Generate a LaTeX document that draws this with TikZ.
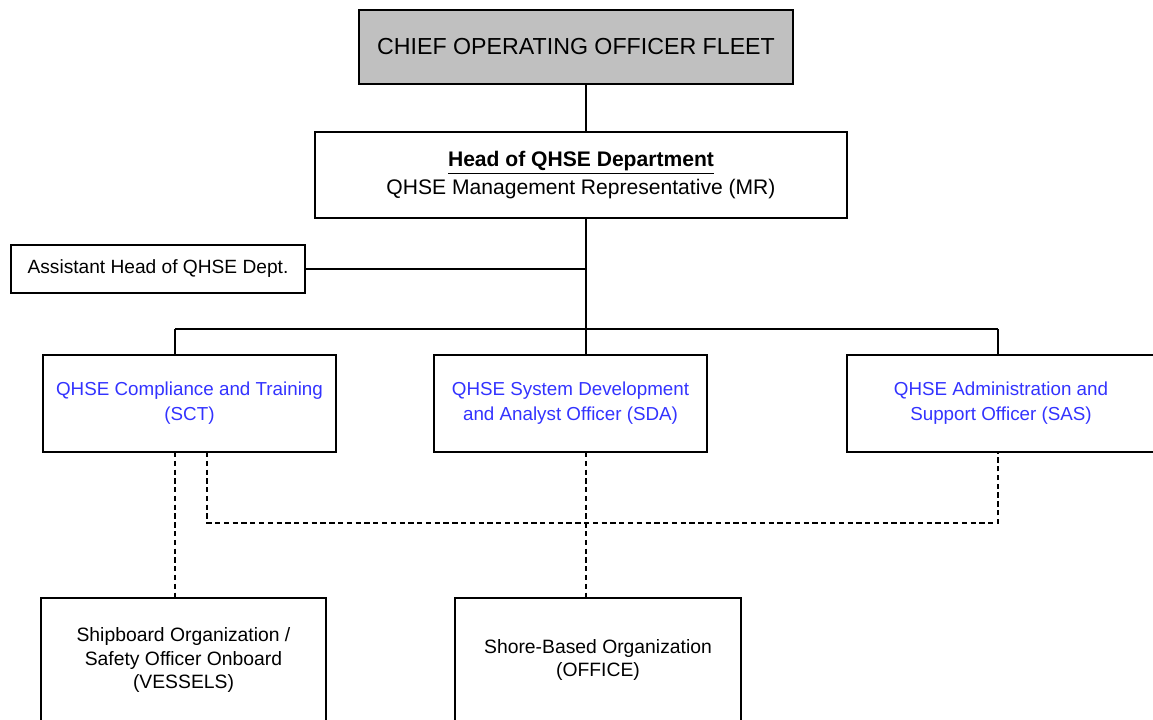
\documentclass[tikz,border=0pt]{standalone}
\usepackage{fontspec}
\setmainfont{Liberation Sans}

\definecolor{orgblue}{RGB}{51,51,255}
\definecolor{orggray}{RGB}{192,192,192}

\newcommand\orgpx{0.02cm}
\newcommand\orgtopstyle{\fontsize{13.2}{16}\selectfont}
\newcommand\orgheadstyle{\fontsize{12}{15.9}\selectfont}
\newcommand\orgunitstyle{\fontsize{10.7}{14.2}\selectfont}
\newcommand\orgsidestyle{\fontsize{10.9}{13}\selectfont}
\newcommand\orgbasestyle{\fontsize{11}{13.6}\selectfont}

\tikzset{
  orgbox/.style 2 args={draw, line width=1.1pt, inner sep=0pt, outer sep=0pt,
    minimum width=#1*\orgpx, minimum height=#2*\orgpx, align=center},
  orgline/.style={line width=1.1pt},
  orglink/.style={line width=0.8pt, dash pattern=on 3pt off 2pt}
}

\begin{document}
\begin{tikzpicture}[x=\orgpx, y=-\orgpx]
    \useasboundingbox (0,0) rectangle (1153,720);
    % boxes
    \node[orgbox={434}{74}, fill=orggray, font=\orgtopstyle] (coo) at (576,47) {CHIEF OPERATING OFFICER FLEET};
    \node[orgbox={532}{86}, font=\orgheadstyle] (head) at (581,175) {\underline{\textbf{Head of QHSE Department}}\\QHSE Management Representative (MR)};
    \node[orgbox={294}{48}, font=\orgsidestyle] (asst) at (158,269) {Assistant Head of QHSE Dept.};
    \node[orgbox={293}{97}, text=orgblue, font=\orgunitstyle] (sct) at (189.5,403.5) {QHSE Compliance and Training\\(SCT)};
    \node[orgbox={273}{97}, text=orgblue, font=\orgunitstyle] (sda) at (570.5,403.5) {QHSE System Development\\and Analyst Officer (SDA)};
    \node[orgbox={308}{97}, text=orgblue, font=\orgunitstyle] (sas) at (1001,403.5) {QHSE Administration and\\Support Officer (SAS)};
    \node[orgbox={285}{124}, font=\orgbasestyle] (ship) at (183.5,660) {Shipboard Organization /\\Safety Officer Onboard\\(VESSELS)};
    \node[orgbox={286}{124}, font=\orgbasestyle] (shore) at (598,660) {Shore-Based Organization\\(OFFICE)};
    % reporting lines
    \coordinate (trunk) at (586,329);
    \coordinate (barL) at (175,329);
    \coordinate (barR) at (998,329);
    \draw[orgline] (coo.south -| trunk) -- (head.north -| trunk);
    \draw[orgline] (head.south -| trunk) -- (trunk);
    \draw[orgline] (asst.east) -- (asst.east -| trunk);
    \draw[orgline] (barL) -- (barR);
    \draw[orgline] (barL) -- (barL |- sct.north);
    \draw[orgline] (trunk) -- (trunk |- sda.north);
    \draw[orgline] (barR) -- (barR |- sas.north);
    % coordination lines
    \coordinate (loopL) at (207,523);
    \coordinate (loopR) at (998,523);
    \draw[orglink] (sct.south -| barL) -- (ship.north -| barL);
    \draw[orglink] (sct.south -| loopL) -- (loopL) -- (loopR) -- (sas.south -| loopR);
    \draw[orglink] (sda.south -| trunk) -- (shore.north -| trunk);
\end{tikzpicture}
\end{document}
